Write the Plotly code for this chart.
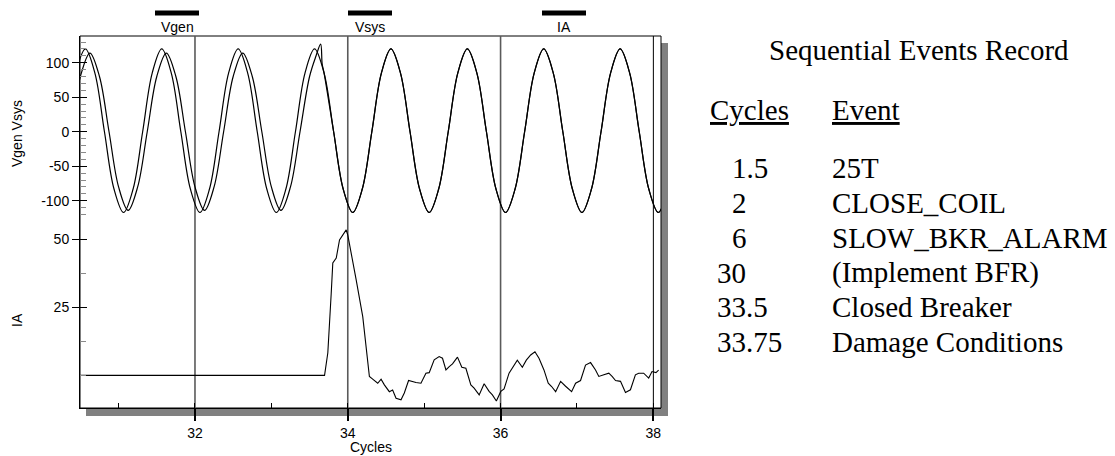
import plotly.graph_objects as go

# ---------------- data ----------------
vsys_t = [30.44, 30.565, 30.69, 30.815, 30.94, 31.065, 31.19, 31.315,
          31.44, 31.565, 31.69, 31.815, 31.94, 32.065, 32.19, 32.315,
          32.44, 32.565, 32.69, 32.815, 32.94, 33.065, 33.19, 33.315,
          33.44, 33.565, 33.69, 33.815, 33.94, 34.065, 34.19, 34.315,
          34.44, 34.565, 34.69, 34.815, 34.94, 35.065, 35.19, 35.315,
          35.44, 35.565, 35.69, 35.815, 35.94, 36.065, 36.19, 36.315,
          36.44, 36.565, 36.69, 36.815, 36.94, 37.065, 37.19, 37.315,
          37.44, 37.565, 37.69, 37.815, 37.94, 38.065, 38.19]
vsys_v = [85, 120, 85, 0, -83, -117, -83, 0,
          85, 120, 85, 0, -83, -117, -83, 0,
          85, 120, 85, 0, -83, -117, -83, 0,
          85, 120, 85, 0, -83, -117, -83, 0,
          85, 120, 85, 0, -83, -117, -83, 0,
          85, 120, 85, 0, -83, -117, -83, 0,
          85, 120, 85, 0, -83, -117, -83, 0,
          85, 120, 85, 0, -83, -117, -83]

vgen_t = [30.375, 30.5, 30.625, 30.75, 30.875, 31.0, 31.125, 31.25,
          31.375, 31.5, 31.625, 31.75, 31.875, 32.0, 32.125, 32.25,
          32.375, 32.5, 32.625, 32.75, 32.875, 33.0, 33.125, 33.25,
          33.375, 33.5, 33.585, 33.645, 33.665, 33.69,
          33.815, 33.94, 34.065, 34.19, 34.315,
          34.44, 34.565, 34.69, 34.815, 34.94, 35.065, 35.19, 35.315,
          35.44, 35.565, 35.69, 35.815, 35.94, 36.065, 36.19, 36.315,
          36.44, 36.565, 36.69, 36.815, 36.94, 37.065, 37.19, 37.315,
          37.44, 37.565, 37.69, 37.815, 37.94, 38.065, 38.19]
vgen_v = [0, 80, 114, 80, 0, -80, -114, -80,
          0, 80, 114, 80, 0, -80, -114, -80,
          0, 80, 114, 80, 0, -80, -114, -80,
          0, 80, 110, 127, 98, 85,
          0, -83, -117, -83, 0,
          85, 120, 85, 0, -83, -117, -83, 0,
          85, 120, 85, 0, -83, -117, -83, 0,
          85, 120, 85, 0, -83, -117, -83, 0,
          85, 120, 85, 0, -83, -117, -83]

ia_t = [30.5, 33.696, 33.739, 33.761, 33.783, 33.804, 33.849, 33.892, 33.957,
        33.979, 34.0, 34.044, 34.110, 34.196, 34.240, 34.283, 34.326, 34.392,
        34.436, 34.479, 34.544, 34.587, 34.632, 34.697, 34.740, 34.796, 34.893,
        34.958, 35.023, 35.066, 35.131, 35.196, 35.240, 35.285, 35.328, 35.371,
        35.436, 35.493, 35.546, 35.611, 35.654, 35.720, 35.785, 35.850, 35.893,
        35.945, 36.003, 36.046, 36.111, 36.154, 36.219, 36.285, 36.337, 36.394,
        36.450, 36.503, 36.568, 36.624, 36.668, 36.721, 36.786, 36.851, 36.930,
        36.982, 37.047, 37.112, 37.178, 37.243, 37.286, 37.352, 37.417, 37.460,
        37.505, 37.570, 37.635, 37.700, 37.765, 37.808, 37.873, 37.939, 37.982,
        38.034, 38.069]
ia_v = [0, 0, 8.3, 17.9, 30.0, 41.3, 43.1, 49.8, 52.3,
        53.5, 51.6, 45.5, 35.1, 21.6, 10.6, -0.4, -1.4, -2.9,
        -1.4, -3.5, -6.0, -5.4, -8.4, -9.0, -6.5, -1.9, -2.6,
        -2.9, 0.8, 1.0, 5.7, 6.9, 6.3, 2.0, 3.2, 4.2,
        6.7, 3.0, 2.6, -3.5, -4.7, -7.2, -3.1, -5.9, -7.2,
        -9.4, -5.9, -5.0, 0.8, 2.6, 5.6, 3.0, 5.6, 7.5,
        8.7, 6.3, 2.0, -2.9, -4.1, -6.0, -2.2, -4.0, -6.0,
        -2.9, -1.9, 3.8, 4.7, 2.0, -0.4, 0.2, 0.8, -0.4,
        -1.9, -2.2, -6.3, -5.3, 0.2, 0.8, 0.8, -1.0, 1.4,
        1.0, 1.9]

cursor_x = [32, 34, 36, 38]
x_tick_vals = [32, 34, 36, 38]
x_tick_text = ["32", "34", "36", "38"]
v_tick_vals = [-100, -50, 0, 50, 100]
v_tick_text = ["-100", "-50", "0", "50", "100"]
ia_tick_vals = [25, 50]
ia_tick_text = ["25", "50"]
channel_names = ["Vgen", "Vsys", "IA"]

ser_title = "Sequential Events Record"
ser_headers = ["Cycles", "Event"]
ser_cycles = ["1.5", "2", "6", "30", "33.5", "33.75"]
ser_events = ["25T", "CLOSE_COIL", "SLOW_BKR_ALARM", "(Implement BFR)",
              "Closed Breaker", "Damage Conditions"]

# ---------------- layout helpers (pixel -> paper) ----------------
W, H = 1115, 456
L, R, T, B = 80, 661, 36, 408
SPLIT = 218


def px(x):
    return (x - L) / (R - L)


def py(y):
    return (B - y) / (B - T)


d = py(SPLIT)
SANS = "Liberation Sans"
SERIF = "Liberation Serif"
SANS_SIZE = 14
SERIF_SIZE = 29

fig = go.Figure()
fig.add_trace(go.Scatter(x=vsys_t, y=vsys_v, mode="lines", name="Vsys",
                         line=dict(color="black", width=1.2, shape="spline"),
                         xaxis="x", yaxis="y"))
fig.add_trace(go.Scatter(x=vgen_t, y=vgen_v, mode="lines", name="Vgen",
                         line=dict(color="black", width=1.2, shape="spline"),
                         xaxis="x", yaxis="y"))
fig.add_trace(go.Scatter(x=ia_t, y=ia_v, mode="lines", name="IA",
                         line=dict(color="black", width=1.1),
                         xaxis="x", yaxis="y2"))
# invisible traces so the inner tick overlay axes are drawn
fig.add_trace(go.Scatter(x=[None], y=[None], xaxis="x", yaxis="y3",
                         showlegend=False, hoverinfo="skip"))
fig.add_trace(go.Scatter(x=[None], y=[None], xaxis="x", yaxis="y4",
                         showlegend=False, hoverinfo="skip"))

shapes = [
    # drop shadow
    dict(type="rect", xref="paper", yref="paper", x0=px(86), x1=px(668),
         y0=py(416), y1=py(43), fillcolor="#808080", line=dict(width=0),
         layer="below"),
    # plot frame
    dict(type="rect", xref="paper", yref="paper", x0=0, x1=1, y0=0, y1=1,
         fillcolor="white", line=dict(color="black", width=1), layer="below"),
]
for cx in cursor_x:
    last = cx == cursor_x[-1]
    shapes.append(dict(type="line", xref="x", yref="paper", x0=cx, x1=cx,
                       y0=0, y1=1, layer="below",
                       line=dict(color="black" if last else "#5a5a5a",
                                 width=1 if last else 1.6)))

label_centers = [177, 370, 564]
annotations = []
for name, cxp in zip(channel_names, label_centers):
    shapes.append(dict(type="rect", xref="paper", yref="paper",
                       x0=px(cxp - 22), x1=px(cxp + 22), y0=py(15.5), y1=py(10.5),
                       fillcolor="black", line=dict(width=0)))
    annotations.append(dict(text=name, xref="paper", yref="paper", x=px(cxp),
                            y=py(27), xanchor="center", yanchor="middle",
                            showarrow=False,
                            font=dict(family=SANS, size=SANS_SIZE, color="black")))

# axis titles
annotations.append(dict(text="Vgen Vsys", xref="paper", yref="paper", x=px(17),
                        y=py(134), textangle=-90, showarrow=False,
                        xanchor="center", yanchor="middle",
                        font=dict(family=SANS, size=SANS_SIZE, color="black")))
annotations.append(dict(text="IA", xref="paper", yref="paper", x=px(17),
                        y=py(320), textangle=-90, showarrow=False,
                        xanchor="center", yanchor="middle",
                        font=dict(family=SANS, size=SANS_SIZE, color="black")))
annotations.append(dict(text="Cycles", xref="paper", yref="paper", x=px(371),
                        y=py(447), showarrow=False, xanchor="center", yanchor="middle",
                        font=dict(family=SANS, size=SANS_SIZE, color="black")))

# sequential events record
serif_font = dict(family=SERIF, size=SERIF_SIZE, color="black")
annotations.append(dict(text=ser_title, xref="paper", yref="paper", x=px(767),
                        y=py(50), xanchor="left", yanchor="middle", showarrow=False,
                        font=serif_font))
annotations.append(dict(text="<u>" + ser_headers[0] + "</u>", xref="paper", yref="paper",
                        x=px(708), y=py(110), xanchor="left", yanchor="middle",
                        showarrow=False, font=serif_font))
annotations.append(dict(text="<u>" + ser_headers[1] + "</u>", xref="paper", yref="paper",
                        x=px(830), y=py(110), xanchor="left", yanchor="middle",
                        showarrow=False, font=serif_font))
row_y = [168, 203, 238, 272.5, 307, 341.5]
for cyc, ev, ry in zip(ser_cycles, ser_events, row_y):
    xl = 730 if float(cyc) < 10 else 715
    annotations.append(dict(text=cyc, xref="paper", yref="paper", x=px(xl), y=py(ry),
                            xanchor="left", yanchor="middle", showarrow=False,
                            font=serif_font))
    annotations.append(dict(text=ev, xref="paper", yref="paper", x=px(830), y=py(ry),
                            xanchor="left", yanchor="middle", showarrow=False,
                            font=serif_font))

tickfont = dict(family=SANS, size=SANS_SIZE, color="black")
V_RANGE = [-125, 138.7]
IA_RANGE = [-12, 57.85]

fig.update_layout(
    width=W, height=H, autosize=False,
    margin=dict(l=L, r=W - R, t=T, b=H - B, pad=0),
    paper_bgcolor="white", plot_bgcolor="white",
    showlegend=False,
    shapes=shapes, annotations=annotations,
    xaxis=dict(domain=[0, 1], anchor="y2", range=[30.495, 38.1],
               tickmode="array", tickvals=x_tick_vals, ticktext=x_tick_text,
               ticks="outside", ticklen=12, tickwidth=1.5, tickcolor="black",
               minor=dict(dtick=1, tick0=0, ticks="inside", ticklen=5,
                          tickwidth=1, tickcolor="black"),
               showgrid=False, zeroline=False, showline=True, linecolor="black",
               linewidth=1, tickfont=tickfont),
    yaxis=dict(domain=[d, 1], anchor="x", range=V_RANGE,
               tickmode="array", tickvals=v_tick_vals, ticktext=v_tick_text,
               ticks="outside", ticklen=7, tickwidth=1, tickcolor="black",
               minor=dict(dtick=10, tick0=0, ticks="inside", ticklen=6,
                          tickwidth=1, tickcolor="#8a8a8a"),
               showgrid=False, zeroline=False, showline=True, linecolor="black",
               linewidth=1, tickfont=tickfont),
    yaxis2=dict(domain=[0, d], anchor="x", range=IA_RANGE,
                tickmode="array", tickvals=ia_tick_vals, ticktext=ia_tick_text,
                ticks="outside", ticklen=7, tickwidth=1, tickcolor="black",
                minor=dict(dtick=12.5, tick0=0, ticks="inside", ticklen=6,
                           tickwidth=1, tickcolor="#8a8a8a"),
                showgrid=False, zeroline=False, showline=True, linecolor="black",
                linewidth=1, tickfont=tickfont),
    # overlay axes giving the inner half of the crossing major ticks
    yaxis3=dict(domain=[d, 1], anchor="x", overlaying="y", range=V_RANGE,
                tickmode="array", tickvals=v_tick_vals, ticks="inside", ticklen=7,
                tickwidth=1, tickcolor="black", showticklabels=False,
                showgrid=False, zeroline=False, showline=False),
    yaxis4=dict(domain=[0, d], anchor="x", overlaying="y2", range=IA_RANGE,
                tickmode="array", tickvals=ia_tick_vals, ticks="inside", ticklen=7,
                tickwidth=1, tickcolor="black", showticklabels=False,
                showgrid=False, zeroline=False, showline=False),
)

fig.write_html("out.html", config={"displayModeBar": False})
